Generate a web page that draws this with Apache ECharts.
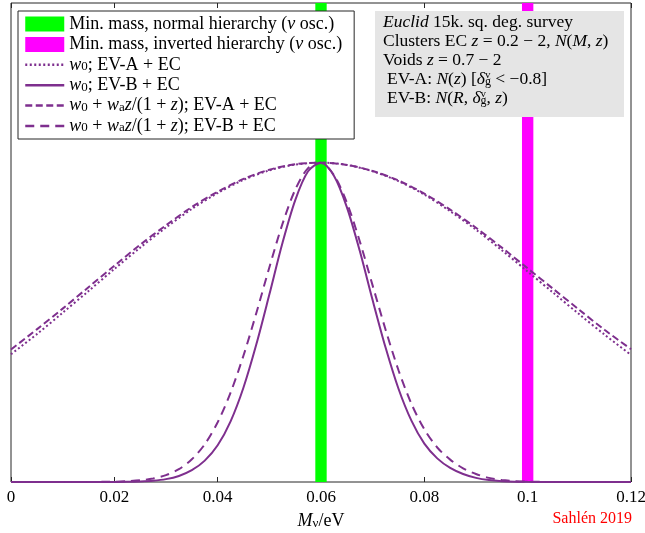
<!DOCTYPE html>
<html><head><meta charset="utf-8">
<script src="https://cdn.jsdelivr.net/npm/echarts@6/dist/echarts.min.js"></script>
<style>html,body{margin:0;padding:0;background:#fff}#c{width:645px;height:533px}</style>
</head><body><div id="c"></div>
<script>
// ---- data ----
const xTicks = [0, 0.02, 0.04, 0.06, 0.08, 0.1, 0.12];
const xWide = [0,0.005,0.01,0.015,0.02,0.025,0.03,0.035,0.04,0.045,0.05,0.055,0.06,0.065,0.07,0.075,0.08,0.085,0.09,0.095,0.1,0.105,0.11,0.115,0.12];
const dottedA = [0.400,0.463,0.530,0.598,0.667,0.734,0.797,0.855,0.905,0.946,0.976,0.994,1.0,0.993,0.973,0.942,0.900,0.848,0.790,0.726,0.659,0.592,0.525,0.460,0.398];
const dashedA = [0.415,0.478,0.543,0.610,0.677,0.743,0.804,0.861,0.909,0.949,0.978,0.995,1.0,0.993,0.974,0.944,0.903,0.853,0.796,0.734,0.669,0.604,0.539,0.475,0.416];
const xNarrow = [0,0.0025,0.005,0.0075,0.01,0.0125,0.015,0.0175,0.02,0.0225,0.025,0.0275,0.03,0.0325,0.035,0.0375,0.04,0.0425,0.045,0.0475,0.05,0.0525,0.055,0.0575,0.06,0.0625,0.065,0.0675,0.07,0.0725,0.075,0.0775,0.08,0.0825,0.085,0.0875,0.09,0.0925,0.095,0.0975,0.1,0.1025,0.105,0.1075,0.11,0.1125,0.115,0.1175,0.12];
const solidB = [0,0,0,0,0,0,0,0,0.0002,0.0005,0.0017,0.004,0.009,0.019,0.037,0.067,0.115,0.19,0.296,0.432,0.587,0.746,0.882,0.973,1.0,0.959,0.861,0.724,0.569,0.421,0.292,0.192,0.12,0.074,0.044,0.025,0.013,0.006,0.0025,0.001,0.0004,0.0001,0,0,0,0,0,0,0];
const dashedB = [0,0,0,0,0,0,0.0002,0.0004,0.001,0.0024,0.0053,0.011,0.0216,0.04,0.071,0.118,0.187,0.28,0.396,0.53,0.672,0.806,0.915,0.983,0.999,0.961,0.875,0.754,0.615,0.477,0.35,0.245,0.165,0.108,0.07,0.043,0.025,0.013,0.006,0.0028,0.0012,0.0005,0.0002,0,0,0,0,0,0];
const bandNormal = [0.0589, 0.0611];
const bandInverted = [0.0989, 0.1011];
const names = ['Min. mass, normal hierarchy','Min. mass, inverted hierarchy','w0; EV-A + EC','w0; EV-B + EC','w0+wa; EV-A + EC','w0+wa; EV-B + EC'];
const legendLabels = [
  'Min. mass, normal hierarchy ({i|ν} osc.)',
  'Min. mass, inverted hierarchy ({i|ν} osc.)',
  '{i|w}{sub|0}; EV-A + EC',
  '{i|w}{sub|0}; EV-B + EC',
  '{i|w}{sub|0} + {i|w}{sub|a}{i|z}/(1 + {i|z}); EV-A + EC',
  '{i|w}{sub|0} + {i|w}{sub|a}{i|z}/(1 + {i|z}); EV-B + EC'
];
const infoLines = [
  '{i|Euclid} 15k. sq. deg. survey',
  'Clusters EC {i|z} = 0.2 − 2, {i|N}({i|M}, {i|z})',
  'Voids {i|z} = 0.7 − 2',
  'EV-A: {i|N}({i|z}) [{i|δ}{sup|v}{sub|g} < −0.8]',
  'EV-B: {i|N}({i|R}, {i|δ}{sup|v}{sub|g}, {i|z})'
];
// ---- chart ----
const FF = 'Liberation Serif';
const PURPLE = '#7E2F8E';
const zip = (xs, ys) => xs.map((x, i) => [x, ys[i]]);
const richMain = (fs) => ({
  i: {fontStyle: 'italic', fontFamily: FF, fontSize: fs, color: '#000'},
  sub: {fontFamily: FF, fontSize: Math.round(fs * 0.7), lineHeight: Math.round(fs * 0.7), verticalAlign: 'bottom', color: '#000'},
  sup: {fontFamily: FF, fontSize: Math.round(fs * 0.62), lineHeight: Math.round(fs * 0.62), verticalAlign: 'top', width: 0, color: '#000'}
});
const chart = echarts.init(document.getElementById('c'), null, {renderer: 'canvas'});
const lineSeries = (name, xs, ys, type, z) => ({
  name, type: 'line', data: zip(xs, ys), showSymbol: false, symbol: 'none',
  smooth: 0.3, color: PURPLE, z,
  lineStyle: {color: PURPLE, width: 2, type}
});
const bandSeries = (name, band, color) => ({
  name, type: 'line', data: [], color, z: 1,
  markArea: {silent: true, itemStyle: {color, opacity: 1}, data: [[{xAxis: band[0]}, {xAxis: band[1]}]]}
});
const lineLegend = (n, type) => ({name: n, itemStyle: {opacity: 0, color: 'rgba(0,0,0,0)', borderWidth: 0}, lineStyle: {width: 2.5, color: PURPLE, type}});
chart.setOption({
  animation: false,
  grid: {left: 11, right: 14, top: 3, bottom: 51, outerBoundsMode: 'none', containLabel: false, show: true, borderColor: '#262626', borderWidth: 1, backgroundColor: 'transparent'},
  xAxis: [{
    type: 'value', min: 0, max: 0.12, interval: 0.02,
    axisLine: {show: false}, splitLine: {show: false},
    axisTick: {inside: true, length: 5, lineStyle: {color: '#262626'}},
    axisLabel: {fontFamily: FF, fontSize: 17, color: '#000', margin: 7, formatter: v => String(xTicks.find(t => Math.abs(t - v) < 1e-9) ?? v)},
    name: '{i|M}{sub|ν}/eV', nameLocation: 'middle', nameGap: 30,
    nameTextStyle: {fontFamily: FF, fontSize: 18, color: '#000', rich: richMain(18)}
  }, {
    type: 'value', position: 'top', min: 0, max: 0.12, interval: 0.02,
    axisLine: {show: false}, splitLine: {show: false}, axisLabel: {show: false},
    axisTick: {inside: true, length: 5, lineStyle: {color: '#262626'}}
  }],
  yAxis: {type: 'value', min: 0, max: 1.5, axisLine: {show: false}, axisTick: {show: false}, axisLabel: {show: false}, splitLine: {show: false}},
  legend: {
    left: 18, top: 11, orient: 'vertical', align: 'left',
    backgroundColor: '#fff', borderColor: '#262626', borderWidth: 1, borderRadius: 0,
    padding: [4, 12, 4, 6], itemWidth: 39, itemHeight: 15, itemGap: 2.4,
    textStyle: {fontFamily: FF, fontSize: 18, color: '#000', lineHeight: 17, rich: richMain(18)},
    data: [
      {name: names[0], icon: 'rect', itemStyle: {color: '#00ff00'}},
      {name: names[1], icon: 'rect', itemStyle: {color: '#ff00ff'}},
      lineLegend(names[2], [2, 2.5]), lineLegend(names[3], 'solid'), lineLegend(names[4], [7, 3.5]), lineLegend(names[5], [9, 6])
    ],
    formatter: n => legendLabels[names.indexOf(n)],
    selectedMode: false
  },
  series: [
    bandSeries(names[0], bandNormal, '#00ff00'),
    bandSeries(names[1], bandInverted, '#ff00ff'),
    lineSeries(names[2], xWide, dottedA, [2, 2.5], 3),
    lineSeries(names[3], xNarrow, solidB, 'solid', 3),
    lineSeries(names[4], xWide, dashedA, [7, 3.5], 3),
    lineSeries(names[5], xNarrow, dashedB, [9, 6], 3)
  ],
  graphic: [
    {type: 'rect', x: 375, y: 11, shape: {width: 249, height: 106}, style: {fill: '#e5e5e5'}, z: 10},
    ...infoLines.map((t, k) => ({
      type: 'text', x: k >= 3 ? 387 : 383, y: [22, 41, 60, 79, 98][k], z: 11,
      style: {text: t, fontFamily: FF, fontSize: 17.5, fill: '#000', verticalAlign: 'middle', align: 'left', lineHeight: 18, rich: richMain(17.5)}
    })),
    {type: 'text', x: 632, y: 519, z: 11, style: {text: 'Sahlén 2019', fontFamily: FF, fontSize: 16, fill: '#ff0000', align: 'right', verticalAlign: 'middle'}}
  ]
});
</script></body></html>
